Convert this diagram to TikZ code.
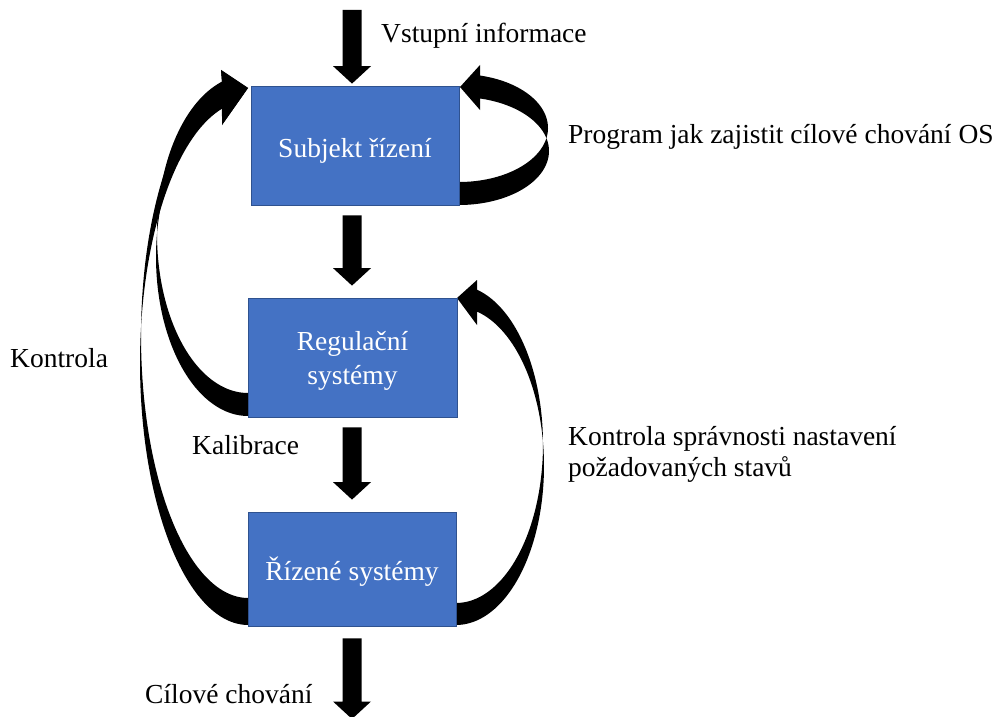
\documentclass[tikz,border=0pt]{standalone}
\usepackage{fontspec}
\setmainfont{Liberation Serif}
\usetikzlibrary{calc}

\definecolor{boxblue}{RGB}{68,114,196}
\definecolor{boxedge}{RGB}{47,82,143}

% straight block arrow pointing down, from #1 (top of shaft) to #2 (tip)
\newcommand\blockdown[2]{%
  \fill[black] let \p1=#1, \p2=#2 in
    (\x1-9.5pt,\y1) -- (\x1+9.5pt,\y1) -- (\x1+9.5pt,\y2+17.5pt) -- (\x1+19pt,\y2+17.5pt)
    -- (\x1,\y2) -- (\x1-19pt,\y2+17.5pt) -- (\x1-9.5pt,\y2+17.5pt) -- cycle;}

\begin{document}
\begin{tikzpicture}[x=1pt,y=-1pt,
  box/.style={draw=boxedge,line width=0.8pt,fill=boxblue,inner sep=0pt},
  lbl/.style={inner sep=0pt,font=\fontsize{27.5}{31}\selectfont},
  boxtext/.style={lbl,text=white,anchor=base},
  band/.style={fill=black}]
\useasboundingbox (0,0) rectangle (999,717);

% curved feedback bands (two offset ellipses each, with an arrow head)
% Kontrola: from the controlled systems back to the control subject
\fill[band] plot[domain=90:256.07,samples=90,variable=\t] ({248+108*cos(\t)},{363+262*sin(\t)})
  -- (222,125) -- (248,88) -- (221,70)
  -- plot[domain=255.91:90,samples=90,variable=\t] ({248+107*cos(\t)},{336+262*sin(\t)}) -- cycle;
% Kalibrace: from the regulation systems back to the control subject
\fill[band] plot[domain=90:253.58,samples=90,variable=\t] ({248+92*cos(\t)},{257+159*sin(\t)})
  -- (222,125) -- (248,88) -- (221,70)
  -- plot[domain=253.4:90,samples=90,variable=\t] ({248+91*cos(\t)},{234+159*sin(\t)}) -- cycle;
% program loop on the control subject
\fill[band] plot[domain=90:-76.5,samples=90,variable=\t] ({459+90*cos(\t)},{151+54*sin(\t)})
  -- (480,110) -- (460,87) -- (480,65)
  -- plot[domain=-76.35:90,samples=90,variable=\t] ({459+89*cos(\t)},{128+54*sin(\t)}) -- cycle;
% check of the required states
\fill[band] plot[domain=90:-76.19,samples=90,variable=\t] ({456+88*cos(\t)},{466+159*sin(\t)})
  -- (477,325) -- (457,298) -- (477,280)
  -- plot[domain=-76.03:90,samples=90,variable=\t] ({456+87*cos(\t)},{444+159*sin(\t)}) -- cycle;

% boxes
\node[box,minimum width=208pt,minimum height=119pt] (s1) at (355,145.5) {};
\node[box,minimum width=209pt,minimum height=119pt] (s2) at (352.5,357.5) {};
\node[box,minimum width=208pt,minimum height=114pt] (s3) at (352,569) {};

\node[boxtext] (t1) at (355,157) {Subjekt řízení};
\node[boxtext] (t2a) at (352.5,350) {Regulační};
\node[boxtext] (t2b) at (352.5,384) {systémy};
\node[boxtext] (t3) at (352,580) {Řízené systémy};

% straight arrows
\coordinate (in) at (352,10);
\coordinate (out) at (352,719);
\blockdown{(in)}{($(s1.north)+(-3,-2)$)}
\blockdown{($(s1.south)+(-3,10)$)}{($(s2.north)+(-0.5,-12)$)}
\blockdown{($(s2.south)+(-0.5,10)$)}{($(s3.north)+(0,-12)$)}
\blockdown{($(s3.south)+(0,12)$)}{(out)}

% labels
\node[lbl,anchor=base west] (vst) at (381,43) {Vstupní informace};
\node[lbl,anchor=base west] (prog) at (568,143) {Program jak zajistit cílové chování OS};
\node[lbl,anchor=base west] (kon) at (10,367) {Kontrola};
\node[lbl,anchor=base west] (kal) at (192,454) {Kalibrace};
\node[lbl,anchor=base west] (ks1) at (568,445) {Kontrola správnosti nastavení};
\node[lbl,anchor=base west] (ks2) at (568,476) {požadovaných stavů};
\node[lbl,anchor=base west] (cil) at (145,703) {Cílové chování};
\end{tikzpicture}
\end{document}
